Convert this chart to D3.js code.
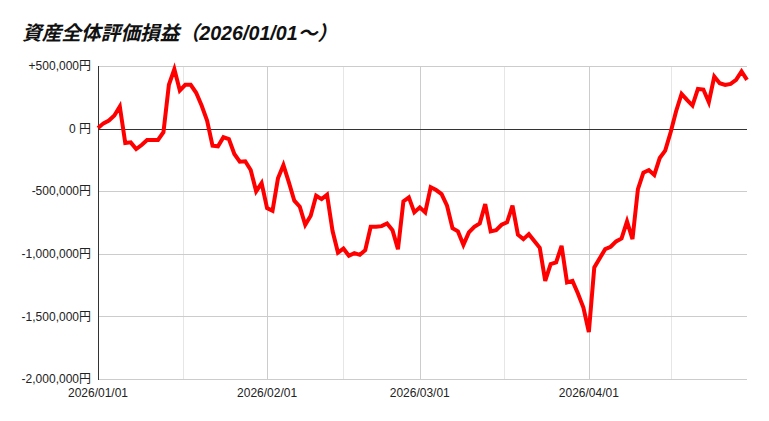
<!DOCTYPE html>
<html>
  <head>
    <meta charset="utf-8" />
    <title>資産全体評価損益</title>
    <script src="https://d3js.org/d3.v7.min.js"></script>
    <style>
      body {
        margin: 0;
        background: #fff;
      }
      text {
        font-family: "Liberation Sans", Arial, "Noto Sans CJK JP", sans-serif;
      }
    </style>
  </head>
  <body>
    <div id="chart"></div>

    <script type="text/javascript">
      // daily values (yen), starting 2026/01/01
      var startDate = "2026-01-01";
      var endDate = "2026-04-30";
      var values = [
        5000, 42000, 64000, 104000, 176000, -115000, -110000, -163000, -131000, -91000,
        -91000, -91000, -29000, 350000, 475000, 304000, 350000, 350000, 286000, 184000,
        64000, -136000, -141000, -69000, -83000, -203000, -264000, -261000, -331000, -501000,
        -435000, -635000, -656000, -397000, -291000, -429000, -576000, -624000, -768000, -696000,
        -536000, -563000, -528000, -816000, -990000, -958000, -1016000, -995000, -1008000, -971000,
        -784000, -784000, -779000, -758000, -811000, -963000, -581000, -549000, -669000, -629000,
        -669000, -469000, -491000, -523000, -616000, -795000, -821000, -928000, -829000, -784000,
        -757000, -603000, -821000, -811000, -768000, -749000, -616000, -848000, -883000, -843000,
        -898000, -952000, -1216000, -1083000, -1069000, -936000, -1229000, -1216000, -1317000, -1429000,
        -1625000, -1109000, -1035000, -963000, -944000, -901000, -877000, -741000, -883000, -483000,
        -352000, -331000, -370000, -235000, -176000, -29000, 139000, 277000, 229000, 184000,
        317000, 312000, 211000, 416000, 363000, 349000, 357000, 389000, 456000, 389000
      ];

      var yTicks = [500000, 0, -500000, -1000000, -1500000, -2000000];
      var yTickLabels = ["+500,000円", "0 円", "-500,000円", "-1,000,000円", "-1,500,000円", "-2,000,000円"];
      var xTicks = ["2026-01-01", "2026-02-01", "2026-03-01", "2026-04-01"];
      var xTickLabels = ["2026/01/01", "2026/02/01", "2026/03/01", "2026/04/01"];

      var title = "資産全体評価損益（2026/01/01～）";

      var width = 769;
      var height = 421;
      var plotLeft = 98;
      var plotRight = 747;
      var plotTop = 66;
      var plotBottom = 379;

      var parse = d3.utcParse("%Y-%m-%d");
      var start = parse(startDate);
      var data = values.map(function (v, i) {
        return { date: d3.utcDay.offset(start, i), value: v };
      });

      var x = d3.scaleUtc().domain([start, parse(endDate)]).range([plotLeft, plotRight]);
      var y = d3.scaleLinear().domain([-2000000, 500000]).range([plotBottom, plotTop]);

      var svg = d3
        .select("#chart")
        .append("svg")
        .attr("width", width)
        .attr("height", height);

      svg
        .append("text")
        .attr("x", 22)
        .attr("y", 40)
        .style("font-family", '"Liberation Sans", "Noto Sans CJK JP", sans-serif')
        .style("font-size", "19.7px")
        .style("font-weight", "bold")
        .style("font-style", "italic")
        .attr("fill", "#111")
        .text(title);

      // vertical gridlines: months, plus lighter ones halfway between
      var monthDates = xTicks.map(parse);
      var bounds = monthDates.concat([parse("2026-05-01")]);
      var midDates = [];
      for (var i = 0; i < bounds.length - 1; i++) {
        midDates.push(new Date((bounds[i].getTime() + bounds[i + 1].getTime()) / 2));
      }

      svg
        .selectAll(".minor")
        .data(midDates.filter(function (d) { return x(d) < plotRight; }))
        .enter()
        .append("line")
        .attr("x1", function (d) { return Math.round(x(d)) + 0.5; })
        .attr("x2", function (d) { return Math.round(x(d)) + 0.5; })
        .attr("y1", plotTop)
        .attr("y2", plotBottom)
        .attr("stroke", "#e6e6e6");

      svg
        .selectAll(".major")
        .data(monthDates.slice(1))
        .enter()
        .append("line")
        .attr("x1", function (d) { return Math.round(x(d)) + 0.5; })
        .attr("x2", function (d) { return Math.round(x(d)) + 0.5; })
        .attr("y1", plotTop)
        .attr("y2", plotBottom)
        .attr("stroke", "#cccccc");

      // horizontal gridlines
      svg
        .selectAll(".hgrid")
        .data(yTicks)
        .enter()
        .append("line")
        .attr("x1", plotLeft)
        .attr("x2", plotRight)
        .attr("y1", function (d) { return Math.round(y(d)) + 0.5; })
        .attr("y2", function (d) { return Math.round(y(d)) + 0.5; })
        .attr("stroke", function (d) { return d === 0 ? "#333" : "#cccccc"; });

      // left axis line
      svg
        .append("line")
        .attr("x1", plotLeft + 0.5)
        .attr("x2", plotLeft + 0.5)
        .attr("y1", plotTop)
        .attr("y2", plotBottom + 1)
        .attr("stroke", "#333");

      svg
        .selectAll(".ylab")
        .data(yTicks)
        .enter()
        .append("text")
        .attr("x", 91)
        .attr("y", function (d) { return y(d); })
        .attr("dy", "0.35em")
        .attr("text-anchor", "end")
        .style("font-size", "12px")
        .attr("fill", "#222")
        .text(function (d, i) { return yTickLabels[i]; });

      svg
        .selectAll(".xlab")
        .data(monthDates)
        .enter()
        .append("text")
        .attr("x", function (d) { return x(d); })
        .attr("y", 397)
        .attr("text-anchor", "middle")
        .style("font-size", "12px")
        .attr("fill", "#222")
        .text(function (d, i) { return xTickLabels[i]; });

      var line = d3
        .line()
        .x(function (d) { return x(d.date); })
        .y(function (d) { return y(d.value); });

      svg
        .append("path")
        .datum(data)
        .attr("d", line)
        .attr("fill", "none")
        .attr("stroke", "#ff0000")
        .attr("stroke-width", 4);
    </script>
  </body>
</html>
